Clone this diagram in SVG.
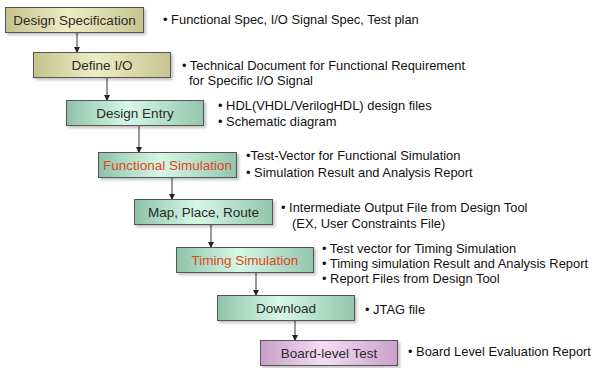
<svg xmlns="http://www.w3.org/2000/svg" width="596" height="368" viewBox="0 0 596 368">
  <defs>
    <linearGradient id="gKhaki" x1="0" y1="0" x2="1" y2="0">
      <stop offset="0" stop-color="#c6c28c"/>
      <stop offset="0.45" stop-color="#eeecc4"/>
      <stop offset="1" stop-color="#c8c490"/>
    </linearGradient>
    <linearGradient id="gGreen" x1="0" y1="0" x2="1" y2="0">
      <stop offset="0" stop-color="#8ec3a8"/>
      <stop offset="0.45" stop-color="#d6f7e6"/>
      <stop offset="1" stop-color="#92c6ac"/>
    </linearGradient>
    <linearGradient id="gPurple" x1="0" y1="0" x2="1" y2="0">
      <stop offset="0" stop-color="#c89ec8"/>
      <stop offset="0.45" stop-color="#f5dcf5"/>
      <stop offset="1" stop-color="#c9a1c9"/>
    </linearGradient>
    <filter id="shadow" x="-10%" y="-20%" width="125%" height="160%">
      <feGaussianBlur in="SourceAlpha" stdDeviation="1.5"/>
      <feOffset dx="2" dy="2" result="b"/>
      <feComponentTransfer><feFuncA type="linear" slope="0.25"/></feComponentTransfer>
      <feMerge><feMergeNode/><feMergeNode in="SourceGraphic"/></feMerge>
    </filter>
    <marker id="arrow" markerWidth="6" markerHeight="6" refX="5" refY="3" orient="auto" markerUnits="userSpaceOnUse">
      <path d="M0,0 L6,3 L0,6 Z" fill="#222"/>
    </marker>
  </defs>
  <style>
    .box { stroke: #555; stroke-width: 1; filter: url(#shadow); }
    .k { fill: url(#gKhaki); }
    .g { fill: url(#gGreen); }
    .p { fill: url(#gPurple); }
    .lbl { font-family: "Liberation Sans", Arial, sans-serif; font-size: 13.5px; fill: #2a2a2a; text-anchor: middle; }
    .red { fill: #e0451c; }
    .note { font-family: "Liberation Sans", Arial, sans-serif; font-size: 12.9px; fill: #111; }
    .conn line { stroke: #333; stroke-width: 1; marker-end: url(#arrow); }
  </style>
  <rect width="596" height="368" fill="#fff"/>

  <!-- connectors -->
  <g id="connectors" class="conn">
    <line x1="77" y1="32" x2="77" y2="52"/>
    <line x1="107" y1="77" x2="107" y2="100"/>
    <line x1="139" y1="126" x2="139" y2="152"/>
    <line x1="172" y1="178" x2="172" y2="199"/>
    <line x1="211" y1="224" x2="211" y2="247"/>
    <line x1="256" y1="273" x2="256" y2="295"/>
    <line x1="295" y1="320" x2="295" y2="340"/>
  </g>

  <g id="design-spec">
    <rect class="box k" x="5.5" y="7.5" width="138" height="25"/>
    <text class="lbl" x="74.5" y="25">Design Specification</text>
    <text class="note" x="163" y="24">• Functional Spec, I/O Signal Spec, Test plan</text>
  </g>

  <g id="define-io">
    <rect class="box k" x="33.5" y="52.5" width="137" height="25"/>
    <text class="lbl" x="102" y="70">Define I/O</text>
    <text class="note" x="182" y="70">• Technical Document for Functional Requirement</text>
    <text class="note" x="189" y="85">for Specific I/O Signal</text>
  </g>

  <g id="design-entry">
    <rect class="box g" x="66.5" y="100.5" width="137" height="25"/>
    <text class="lbl" x="135" y="118">Design Entry</text>
    <text class="note" x="218" y="110">• HDL(VHDL/VerilogHDL) design files</text>
    <text class="note" x="218" y="126">• Schematic diagram</text>
  </g>

  <g id="functional-sim">
    <rect class="box g" x="98.5" y="152.5" width="138" height="25"/>
    <text class="lbl red" x="167.5" y="170">Functional Simulation</text>
    <text class="note" x="246" y="160">•Test-Vector for Functional Simulation</text>
    <text class="note" x="246" y="177">• Simulation Result and Analysis Report</text>
  </g>

  <g id="map-place-route">
    <rect class="box g" x="134.5" y="199.5" width="138" height="25"/>
    <text class="lbl" x="203.5" y="217">Map, Place, Route</text>
    <text class="note" x="281" y="212">• Intermediate Output File from Design Tool</text>
    <text class="note" x="292" y="228">(EX, User Constraints File)</text>
  </g>

  <g id="timing-sim">
    <rect class="box g" x="176.5" y="247.5" width="137" height="25"/>
    <text class="lbl red" x="245" y="265">Timing Simulation</text>
    <text class="note" x="322" y="253">• Test vector for Timing Simulation</text>
    <text class="note" x="322" y="268">• Timing simulation Result and Analysis Report</text>
    <text class="note" x="322" y="283">• Report Files from Design Tool</text>
  </g>

  <g id="download">
    <rect class="box g" x="217.5" y="295.5" width="137" height="25"/>
    <text class="lbl" x="286" y="313">Download</text>
    <text class="note" x="365" y="314">• JTAG file</text>
  </g>

  <g id="board-test">
    <rect class="box p" x="260.5" y="340.5" width="137" height="25"/>
    <text class="lbl" x="329" y="358">Board-level Test</text>
    <text class="note" x="408" y="356">• Board Level Evaluation Report</text>
  </g>
</svg>
